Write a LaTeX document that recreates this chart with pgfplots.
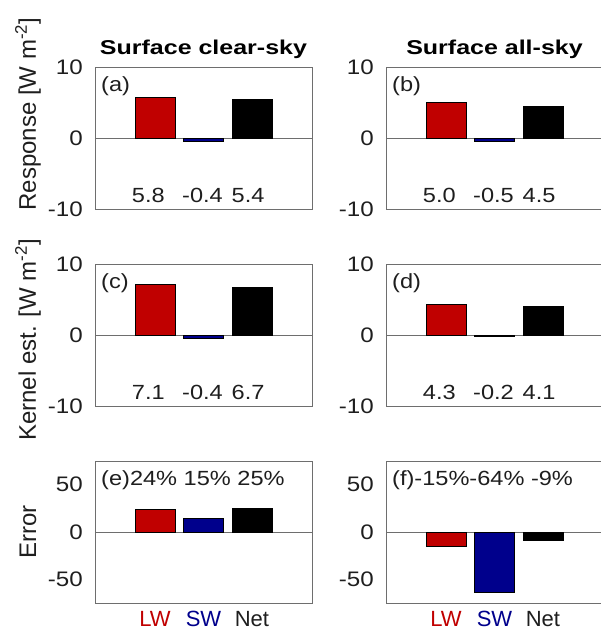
\documentclass[border=0pt]{standalone}
\usepackage{pgfplots}
\pgfplotsset{compat=1.18}
\usepackage{fontspec}
\setmainfont{Liberation Sans}[FakeStretch=1.15]
\newfontfamily\titlefont{Liberation Sans}[FakeStretch=1.25]
\newfontfamily\labfont{Liberation Sans}
\definecolor{bred}{RGB}{192,0,0}
\definecolor{bblue}{RGB}{0,0,140}
\definecolor{axgray}{RGB}{110,110,110}
\definecolor{txt}{RGB}{30,30,30}
\pgfplotsset{
 panel/.style={
  scale only axis, width=217pt, height=142pt,
  xmin=-0.24, xmax=4.24,
  axis line style={axgray, line width=0.8pt},
  major tick length=0pt,
  xtick=\empty,
  tick style={draw=none},
  yticklabel style={font=\fontsize{21}{25}\selectfont, text=txt, inner sep=0pt, xshift=-12pt},
  /pgf/number format/assume math mode=true,
  ybar, bar shift=0pt, bar width=0.82,
  clip=false,
 },
 small/.style={ymin=-10, ymax=10, ytick={-10,0,10}},
 big/.style={ymin=-75, ymax=75, ytick={-50,0,50},
  xtick={1,2,3},
  xticklabels={\textcolor{bred}{LW},\textcolor{bblue}{SW},\textcolor{txt}{Net}},
  xticklabel style={font=\labfont\fontsize{22}{26}\selectfont, inner sep=0pt, yshift=-8pt, anchor=north}},
}
\newcommand{\tf}{\fontsize{20.5}{24}\selectfont}
\newcommand{\panellabel}[1]{\node[anchor=base west, inner sep=0pt, font=\tf, text=txt] at (rel axis cs:0,1) [xshift=6pt, yshift=-24pt] {#1};}
\newcommand{\zeroline}{\draw[axgray, line width=0.6pt] (axis cs:-0.24,0) -- (axis cs:4.24,0);}
\newcommand{\vals}[3]{%
 \node[anchor=base, inner sep=0pt, font=\tf, text=txt] at (axis cs:0.86,-9.1) {#1};
 \node[anchor=base, inner sep=0pt, font=\tf, text=txt] at (axis cs:1.98,-9.1) {#2};
 \node[anchor=base, inner sep=0pt, font=\tf, text=txt] at (axis cs:2.92,-9.1) {#3};}
\newcommand{\ttl}[1]{\node[font=\titlefont\bfseries\fontsize{20}{24}\selectfont, anchor=south, inner sep=0pt] at (rel axis cs:0.5,1) [yshift=8pt] {#1};}
\begin{document}
\begin{tikzpicture}
\path[use as bounding box] (0,0) rectangle (601pt,-632pt);
% (a)
\begin{axis}[panel, small, at={(95pt,-67pt)}, anchor=north west]
\zeroline
\addplot[fill=bred, draw=black, line width=0.5pt] coordinates {(1,5.8)};
\addplot[fill=bblue, draw=black, line width=0.5pt] coordinates {(2,-0.4)};
\addplot[fill=black, draw=black, line width=0.5pt] coordinates {(3,5.4)};
\panellabel{(a)}
\vals{5.8}{-0.4}{5.4}
\ttl{Surface clear-sky}
\end{axis}
% (b)
\begin{axis}[panel, small, at={(386pt,-67pt)}, anchor=north west]
\zeroline
\addplot[fill=bred, draw=black, line width=0.5pt] coordinates {(1,5.0)};
\addplot[fill=bblue, draw=black, line width=0.5pt] coordinates {(2,-0.5)};
\addplot[fill=black, draw=black, line width=0.5pt] coordinates {(3,4.5)};
\panellabel{(b)}
\vals{5.0}{-0.5}{4.5}
\ttl{Surface all-sky}
\end{axis}
% (c)
\begin{axis}[panel, small, at={(95pt,-264pt)}, anchor=north west]
\zeroline
\addplot[fill=bred, draw=black, line width=0.5pt] coordinates {(1,7.1)};
\addplot[fill=bblue, draw=black, line width=0.5pt] coordinates {(2,-0.4)};
\addplot[fill=black, draw=black, line width=0.5pt] coordinates {(3,6.7)};
\panellabel{(c)}
\vals{7.1}{-0.4}{6.7}
\end{axis}
% (d)
\begin{axis}[panel, small, at={(386pt,-264pt)}, anchor=north west]
\zeroline
\addplot[fill=bred, draw=black, line width=0.5pt] coordinates {(1,4.3)};
\addplot[fill=bblue, draw=black, line width=0.5pt] coordinates {(2,-0.2)};
\addplot[fill=black, draw=black, line width=0.5pt] coordinates {(3,4.1)};
\panellabel{(d)}
\vals{4.3}{-0.2}{4.1}
\end{axis}
% (e)
\begin{axis}[panel, big, at={(95pt,-461pt)}, anchor=north west]
\zeroline
\addplot[fill=bred, draw=black, line width=0.5pt] coordinates {(1,24)};
\addplot[fill=bblue, draw=black, line width=0.5pt] coordinates {(2,15)};
\addplot[fill=black, draw=black, line width=0.5pt] coordinates {(3,25)};
\panellabel{(e)24\% 15\% 25\%}
\end{axis}
% (f)
\begin{axis}[panel, big, at={(386pt,-461pt)}, anchor=north west]
\zeroline
\addplot[fill=bred, draw=black, line width=0.5pt] coordinates {(1,-15)};
\addplot[fill=bblue, draw=black, line width=0.5pt] coordinates {(2,-64)};
\addplot[fill=black, draw=black, line width=0.5pt] coordinates {(3,-9)};
\panellabel{(f)-15\%-64\% -9\%}
\end{axis}
% y labels
\node[rotate=90, font=\labfont\fontsize{24}{28}\selectfont, text=txt, inner sep=0pt] at (28pt,-114pt) {Response [W m\textsuperscript{-2}]};
\node[rotate=90, font=\labfont\fontsize{24}{28}\selectfont, text=txt, inner sep=0pt] at (28pt,-340pt) {Kernel est. [W m\textsuperscript{-2}]};
\node[rotate=90, font=\labfont\fontsize{24}{28}\selectfont, text=txt, inner sep=0pt] at (28pt,-532pt) {Error};
\end{tikzpicture}
\end{document}
